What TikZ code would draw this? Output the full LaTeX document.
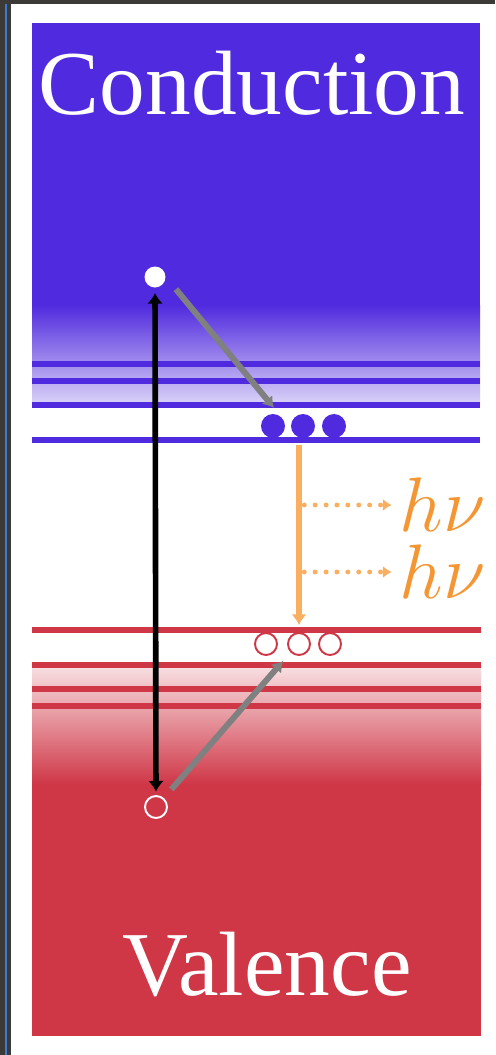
\RequirePackage{fix-cm}
\documentclass[tikz,border=0pt]{standalone}
\usepackage{fontspec}
\setmainfont{Liberation Serif}
\usetikzlibrary{arrows.meta}
\definecolor{cblue}{RGB}{80,42,222}
\definecolor{cred}{RGB}{207,54,70}
\definecolor{glow}{RGB}{250,174,96}
\definecolor{hnucol}{RGB}{244,150,52}
\definecolor{framecol}{RGB}{60,58,54}
\definecolor{edgecol}{RGB}{58,122,210}
\begin{document}
\begin{tikzpicture}[>=Latex, x=0.02cm, y=-0.02cm,
    level/.style={line width=3.1pt, #1},
    elec/.style={circle, inner sep=0pt, minimum size=0.48cm, fill=cblue},
    hole/.style={circle, inner sep=0pt, minimum size=0.44cm, draw=cred, line width=1.1pt, fill=white},
    jump/.style={<->, line width=3.2pt, >={Latex[length=6pt,width=9pt]}},
    relax/.style={->, gray, line width=3.4pt, >={Latex[length=6pt,width=8pt]}},
    emit/.style={->, glow, line width=3pt, >={Latex[length=6pt,width=8.5pt]}},
    photon/.style={->, glow, line width=2.8pt, line cap=round, dash pattern=on 0pt off 6.2pt, >={Latex[length=5pt,width=7pt]}},
    bandtext/.style={white, font=\fontsize{52}{52}\selectfont, anchor=base, inner sep=0pt},
    hnu/.style={hnucol, font=\fontsize{44}{44}\selectfont, anchor=west, inner xsep=2pt, inner ysep=0pt}]
    \useasboundingbox (0,0) rectangle (495,1055);
    \fill[white] (0,0) rectangle (495,1055);
    % Khung cua so
    \fill[framecol] (0,0) rectangle (495,4);
    \fill[framecol] (0,0) rectangle (11,1055);
    \draw[edgecol, line width=0.8pt] (6,4) -- (6,1055);

    % Vung dan
    \fill[cblue] (32,23) rectangle (480,306);
    \shade[top color=cblue, bottom color=cblue!20] (32,305) rectangle (480,405);
    \foreach \y in {364,381,405,440}
        \draw[level=cblue] (32,\y) -- (480,\y);

    % Vung hoa tri
    \shade[top color=cred!14, bottom color=cred] (32,664) rectangle (481,785);
    \fill[cred] (32,784) rectangle (481,1036);
    \foreach \y in {630,665,689,706}
        \draw[level=cred] (32,\y) -- (481,\y);

    \node[bandtext] (cb) at (252,114) {Conduction};
    \node[bandtext] (vb) at (267,995) {Valence};

    % Dien tu va lo trong
    \node[circle, fill=white, inner sep=0pt, minimum size=0.42cm] (e) at (155,277) {};
    \node[circle, draw=white, line width=1.1pt, inner sep=0pt, minimum size=0.44cm] (h) at (156,807) {};
    \node[elec] (c1) at (273,426) {};
    \node[elec] (c2) at (303,426) {};
    \node[elec] (c3) at (334,426) {};
    \node[hole] (v1) at (266,644) {};
    \node[hole] (v2) at (299,644) {};
    \node[hole] (v3) at (330,644) {};

    % Cac mui ten
    \draw[jump, shorten <=3pt, shorten >=2pt] (e) -- (h);
    \draw[relax, shorten <=9pt, shorten >=7pt] (e.east) -- (c1.north east);
    \draw[relax, shorten <=6.5pt, shorten >=6.4pt] (h) -- (v2.south west);
    \draw[emit, shorten <=4pt, shorten >=4pt] (v2.north |- c2.south) -- (v2.north);

    % Photon phat ra
    \node[hnu] (p1) at (396,505) {$h\nu$};
    \node[hnu] (p2) at (396,572) {$h\nu$};
    \draw[photon, shorten <=3pt, shorten >=2.5pt] (v2.north |- p1.west) -- (p1.west);
    \draw[photon, shorten <=3pt, shorten >=2.5pt] (v2.north |- p2.west) -- (p2.west);
\end{tikzpicture}
\end{document}
